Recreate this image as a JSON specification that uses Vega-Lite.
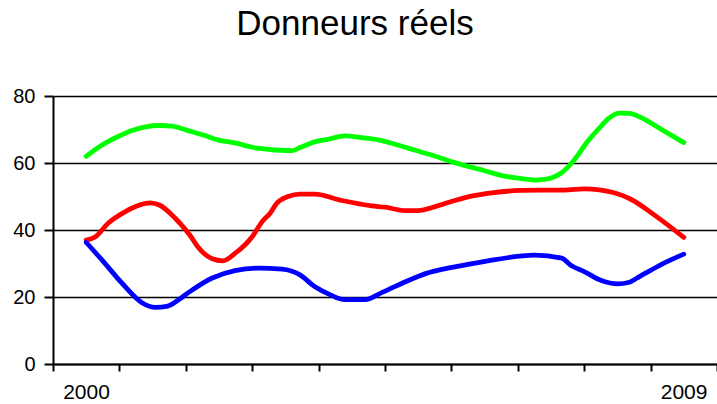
{
  "$schema": "https://vega.github.io/schema/vega-lite/v6.json",
  "width": 664,
  "height": 268,
  "autosize": {"type": "none"},
  "padding": {"left": 53, "top": 96, "right": 0, "bottom": 40},
  "background": "white",
  "title": {"text": "Donneurs réels", "font": "Liberation Sans", "fontSize": 35, "fontWeight": "normal", "color": "black", "anchor": "middle", "offset": 44, "dx": -30},
  "config": {
    "view": {"stroke": null},
    "axis": {"labelFont": "Liberation Sans", "labelColor": "black", "domainColor": "black", "tickColor": "black", "gridColor": "black"}
  },
  "data": {"values": [
    {"serie": "vert", "annee": 2000.00, "valeur": 62.0},
    {"serie": "vert", "annee": 2000.21, "valeur": 65.0},
    {"serie": "vert", "annee": 2000.48, "valeur": 67.9},
    {"serie": "vert", "annee": 2000.69, "valeur": 69.7},
    {"serie": "vert", "annee": 2000.89, "valeur": 70.8},
    {"serie": "vert", "annee": 2001.11, "valeur": 71.2},
    {"serie": "vert", "annee": 2001.29, "valeur": 71.0},
    {"serie": "vert", "annee": 2001.56, "valeur": 69.5},
    {"serie": "vert", "annee": 2001.79, "valeur": 68.2},
    {"serie": "vert", "annee": 2001.98, "valeur": 66.9},
    {"serie": "vert", "annee": 2002.24, "valeur": 66.0},
    {"serie": "vert", "annee": 2002.50, "valeur": 64.7},
    {"serie": "vert", "annee": 2002.74, "valeur": 64.1},
    {"serie": "vert", "annee": 2002.92, "valeur": 63.8},
    {"serie": "vert", "annee": 2003.10, "valeur": 63.7},
    {"serie": "vert", "annee": 2003.22, "valeur": 64.6},
    {"serie": "vert", "annee": 2003.44, "valeur": 66.3},
    {"serie": "vert", "annee": 2003.67, "valeur": 67.2},
    {"serie": "vert", "annee": 2003.89, "valeur": 68.1},
    {"serie": "vert", "annee": 2004.15, "valeur": 67.6},
    {"serie": "vert", "annee": 2004.45, "valeur": 66.7},
    {"serie": "vert", "annee": 2004.65, "valeur": 65.6},
    {"serie": "vert", "annee": 2004.87, "valeur": 64.3},
    {"serie": "vert", "annee": 2005.20, "valeur": 62.4},
    {"serie": "vert", "annee": 2005.59, "valeur": 59.9},
    {"serie": "vert", "annee": 2006.00, "valeur": 57.7},
    {"serie": "vert", "annee": 2006.30, "valeur": 56.1},
    {"serie": "vert", "annee": 2006.53, "valeur": 55.4},
    {"serie": "vert", "annee": 2006.75, "valeur": 54.9},
    {"serie": "vert", "annee": 2006.90, "valeur": 55.1},
    {"serie": "vert", "annee": 2007.16, "valeur": 57.1},
    {"serie": "vert", "annee": 2007.35, "valeur": 60.9},
    {"serie": "vert", "annee": 2007.55, "valeur": 66.4},
    {"serie": "vert", "annee": 2007.73, "valeur": 70.5},
    {"serie": "vert", "annee": 2007.88, "valeur": 73.5},
    {"serie": "vert", "annee": 2008.03, "valeur": 74.9},
    {"serie": "vert", "annee": 2008.18, "valeur": 74.8},
    {"serie": "vert", "annee": 2008.38, "valeur": 73.3},
    {"serie": "vert", "annee": 2008.63, "valeur": 70.4},
    {"serie": "vert", "annee": 2009.00, "valeur": 66.1},
    {"serie": "rouge", "annee": 2000.00, "valeur": 37.0},
    {"serie": "rouge", "annee": 2000.14, "valeur": 38.0},
    {"serie": "rouge", "annee": 2000.33, "valeur": 42.0},
    {"serie": "rouge", "annee": 2000.59, "valeur": 45.5},
    {"serie": "rouge", "annee": 2000.81, "valeur": 47.5},
    {"serie": "rouge", "annee": 2000.96, "valeur": 48.1},
    {"serie": "rouge", "annee": 2001.11, "valeur": 47.4},
    {"serie": "rouge", "annee": 2001.34, "valeur": 43.5},
    {"serie": "rouge", "annee": 2001.56, "valeur": 38.5},
    {"serie": "rouge", "annee": 2001.68, "valeur": 35.0},
    {"serie": "rouge", "annee": 2001.89, "valeur": 31.5},
    {"serie": "rouge", "annee": 2002.06, "valeur": 30.8},
    {"serie": "rouge", "annee": 2002.24, "valeur": 33.0},
    {"serie": "rouge", "annee": 2002.50, "valeur": 38.0},
    {"serie": "rouge", "annee": 2002.65, "valeur": 42.5},
    {"serie": "rouge", "annee": 2002.77, "valeur": 45.0},
    {"serie": "rouge", "annee": 2002.87, "valeur": 48.0},
    {"serie": "rouge", "annee": 2003.04, "valeur": 50.0},
    {"serie": "rouge", "annee": 2003.22, "valeur": 50.7},
    {"serie": "rouge", "annee": 2003.44, "valeur": 50.7},
    {"serie": "rouge", "annee": 2003.85, "valeur": 48.8},
    {"serie": "rouge", "annee": 2004.30, "valeur": 47.2},
    {"serie": "rouge", "annee": 2004.50, "valeur": 46.8},
    {"serie": "rouge", "annee": 2004.80, "valeur": 45.8},
    {"serie": "rouge", "annee": 2004.99, "valeur": 45.8},
    {"serie": "rouge", "annee": 2005.29, "valeur": 47.2},
    {"serie": "rouge", "annee": 2005.55, "valeur": 48.8},
    {"serie": "rouge", "annee": 2005.80, "valeur": 50.1},
    {"serie": "rouge", "annee": 2006.11, "valeur": 51.1},
    {"serie": "rouge", "annee": 2006.53, "valeur": 51.8},
    {"serie": "rouge", "annee": 2006.86, "valeur": 51.9},
    {"serie": "rouge", "annee": 2007.20, "valeur": 51.9},
    {"serie": "rouge", "annee": 2007.50, "valeur": 52.3},
    {"serie": "rouge", "annee": 2007.73, "valeur": 52.0},
    {"serie": "rouge", "annee": 2007.95, "valeur": 51.1},
    {"serie": "rouge", "annee": 2008.18, "valeur": 49.4},
    {"serie": "rouge", "annee": 2008.59, "valeur": 44.0},
    {"serie": "rouge", "annee": 2009.00, "valeur": 37.8},
    {"serie": "bleu", "annee": 2000.00, "valeur": 36.3},
    {"serie": "bleu", "annee": 2000.24, "valeur": 31.0},
    {"serie": "bleu", "annee": 2000.54, "valeur": 24.1},
    {"serie": "bleu", "annee": 2000.84, "valeur": 18.3},
    {"serie": "bleu", "annee": 2001.04, "valeur": 16.9},
    {"serie": "bleu", "annee": 2001.23, "valeur": 17.3},
    {"serie": "bleu", "annee": 2001.38, "valeur": 19.0},
    {"serie": "bleu", "annee": 2001.56, "valeur": 21.6},
    {"serie": "bleu", "annee": 2001.89, "valeur": 25.6},
    {"serie": "bleu", "annee": 2002.24, "valeur": 27.9},
    {"serie": "bleu", "annee": 2002.59, "valeur": 28.6},
    {"serie": "bleu", "annee": 2002.95, "valeur": 28.3},
    {"serie": "bleu", "annee": 2003.22, "valeur": 26.6},
    {"serie": "bleu", "annee": 2003.44, "valeur": 23.1},
    {"serie": "bleu", "annee": 2003.67, "valeur": 20.7},
    {"serie": "bleu", "annee": 2003.89, "valeur": 19.2},
    {"serie": "bleu", "annee": 2004.20, "valeur": 19.2},
    {"serie": "bleu", "annee": 2004.45, "valeur": 21.3},
    {"serie": "bleu", "annee": 2004.87, "valeur": 25.1},
    {"serie": "bleu", "annee": 2005.10, "valeur": 26.9},
    {"serie": "bleu", "annee": 2005.55, "valeur": 29.0},
    {"serie": "bleu", "annee": 2006.05, "valeur": 30.8},
    {"serie": "bleu", "annee": 2006.53, "valeur": 32.2},
    {"serie": "bleu", "annee": 2006.75, "valeur": 32.5},
    {"serie": "bleu", "annee": 2007.16, "valeur": 31.6},
    {"serie": "bleu", "annee": 2007.31, "valeur": 29.3},
    {"serie": "bleu", "annee": 2007.50, "valeur": 27.6},
    {"serie": "bleu", "annee": 2007.76, "valeur": 24.9},
    {"serie": "bleu", "annee": 2008.00, "valeur": 23.9},
    {"serie": "bleu", "annee": 2008.18, "valeur": 24.4},
    {"serie": "bleu", "annee": 2008.29, "valeur": 25.6},
    {"serie": "bleu", "annee": 2008.63, "valeur": 29.4},
    {"serie": "bleu", "annee": 2009.00, "valeur": 32.8}
  ]},
  "mark": {"type": "line", "interpolate": "monotone", "strokeWidth": 4.8, "strokeCap": "round", "strokeJoin": "round"},
  "encoding": {
    "x": {
      "field": "annee", "type": "quantitative",
      "scale": {"domain": [1999.5, 2009.5], "nice": false, "zero": false},
      "axis": {
        "title": null,
        "values": [1999.5, 2000.5, 2001.5, 2002.5, 2003.5, 2004.5, 2005.5, 2006.5, 2007.5, 2008.5, 2009.5],
        "labelExpr": "datum.value == 1999.5 ? '2000' : (datum.value == 2008.5 ? '2009' : '')",
        "labelOffset": 33, "labelFlush": false, "labelOverlap": false,
        "labelFontSize": 21, "labelPadding": 10,
        "grid": false, "tickSize": 7, "tickWidth": 2, "domainWidth": 2
      }
    },
    "y": {
      "field": "valeur", "type": "quantitative",
      "scale": {"domain": [0, 80], "nice": false},
      "axis": {
        "title": null, "values": [0, 20, 40, 60, 80],
        "labelFontSize": 20, "labelPadding": 9,
        "tickSize": 9, "tickWidth": 2, "domainWidth": 2,
        "grid": true, "gridWidth": 1.6, "gridOpacity": 1
      }
    },
    "color": {
      "field": "serie", "type": "nominal",
      "scale": {"domain": ["vert", "rouge", "bleu"], "range": ["#00ff00", "#ff0000", "#0000ff"]},
      "legend": null
    }
  }
}
